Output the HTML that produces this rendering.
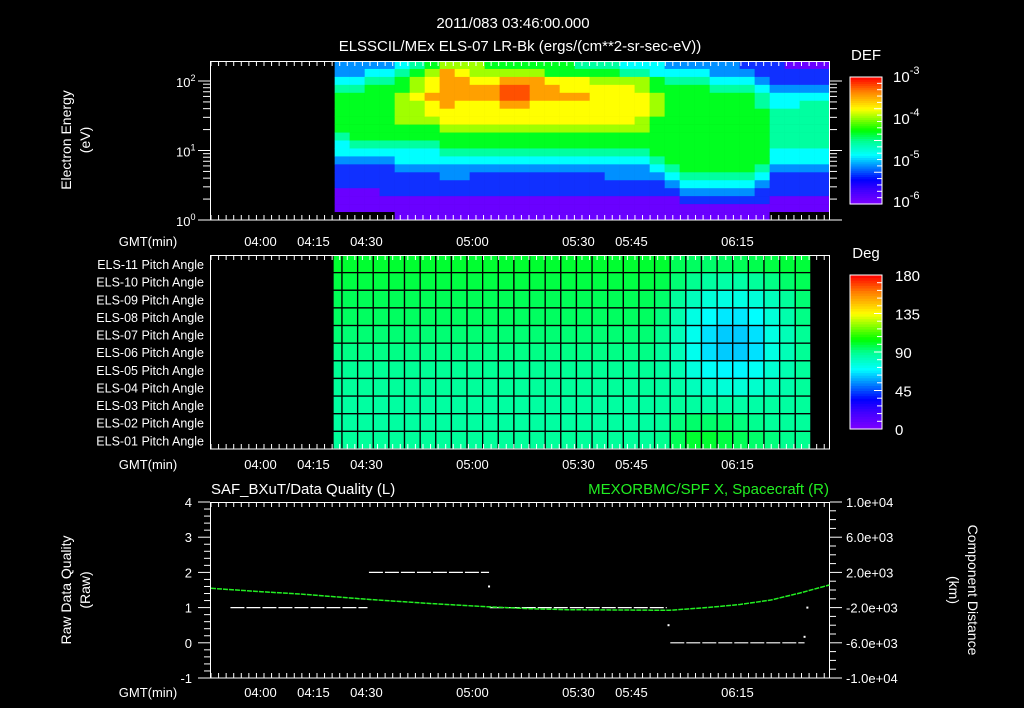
<!DOCTYPE html>
<html><head><meta charset="utf-8"><style>
html,body{margin:0;padding:0;background:#000;}
svg{display:block;font-family:"Liberation Sans",sans-serif;}
</style></head><body>
<svg id="s" width="1024" height="708" viewBox="0 0 1024 708" xmlns="http://www.w3.org/2000/svg">
<rect width="1024" height="708" fill="#000"/>
<text x="513" y="28" fill="#fff" font-size="15" text-anchor="middle">2011/083 03:46:00.000</text>
<text x="520" y="51" fill="#fff" font-size="15" text-anchor="middle">ELSSCIL/MEx ELS-07 LR-Bk  (ergs/(cm**2-sr-sec-eV))</text>
<g id="g1"></g>
<g id="g2"></g>
<g id="g3"></g>
</svg>
<script>
// ---------- shared data ----------
const timeLabels = ["04:00","04:15","04:30","05:00","05:30","05:45","06:15"];
const timeLabelMin = [14,29,44,74,104,119,149]; // minutes since 03:46
// spectrogram: 33 time bins (15 px each from 04:21), 20 energy rows top->bottom; level chars
const specCols = [
"33456666654432221110","33456666665432221110","34566666665432221110","34566666665432222110",
"45667777665443222111","56778777665443222111","67889887665443222111","79999988766543322111",
"78999888766543322111","77899888766543222111","67899888766543222111","679aa988766543222111",
"679aa988766543222111","67999888766543222111","66899888766543222111","66889888766543222111",
"56889888766543222111","56788888766543222111","56788888766543322111","45788888766543322111",
"45778887766543322111","44667776666654322111","34566666666665432111","34566666666666543211",
"34566666666666543211","33456666666666543211","33456666666666543211","23456666666666543211",
"22345566666665432211","22234455555443222110","12234455555443222110","12234555555443222110",
"12234555555443222110"];
const specLevelColors = ["#000000","#6a00ff","#1030ff","#0090ff","#00ffff","#00ffa0","#00ff20","#a0ff00","#ffff00","#ffa000","#ff5000"];
// pitch angles (deg), rows ELS-11 (top) .. ELS-01 (bottom), 31 columns
const pitchRows = [
[100,100,100,100,100,100,100,100,100,100,100,100,100,100,100,100,100,100,100,100,100,100,96,95,94,95,96,97,98,99,99],
[98,98,98,98,98,98,98,98,98,98,98,98,98,98,98,98,98,98,98,98,98,97,93,90,87,86,86,88,91,94,96],
[96,96,96,96,96,96,96,96,96,96,96,96,96,96,96,96,96,96,96,96,96,94,88,82,77,75,75,77,82,88,93],
[95,95,95,95,95,95,95,95,95,95,95,95,95,95,95,95,95,95,95,95,95,92,85,75,70,67,67,70,77,85,91],
[93,93,93,93,93,93,93,93,93,93,93,93,93,93,93,93,93,93,93,93,93,90,83,73,66,63,63,66,75,83,89],
[91,91,91,91,91,91,91,91,91,91,91,91,91,91,91,91,91,91,91,91,91,88,83,73,66,63,63,66,75,83,89],
[89,89,89,89,89,89,89,89,89,89,89,89,89,89,89,89,89,89,89,89,89,87,84,76,71,69,69,72,78,84,88],
[88,88,88,88,88,88,88,88,88,88,88,88,88,88,88,88,88,88,88,88,88,87,86,82,79,77,77,79,82,85,88],
[87,87,87,87,87,87,87,87,87,87,87,87,87,87,87,87,87,87,87,87,87,87,88,87,86,86,86,86,87,87,88],
[87,87,87,87,87,87,87,87,87,87,87,87,87,87,87,87,87,87,87,87,87,88,92,94,94,94,92,90,88,88,88],
[88,88,88,88,88,88,88,88,88,88,88,88,88,88,88,88,88,88,88,88,88,90,96,100,100,98,96,94,92,90,90]];
const pitchLabels = ["ELS-11","ELS-10","ELS-09","ELS-08","ELS-07","ELS-06","ELS-05","ELS-04","ELS-03","ELS-02","ELS-01"];
// data quality segments: [startMin, endMin, value]
const dqSegStart = [5.5,44.7,78.9,130];
const dqSegEnd = [44.3,78.7,129,168];
const dqSegVal = [1,2,1,0];
const dqDotT = [78.7,129.5,168,168.8];
const dqDotV = [1.6,0.5,0.17,1];
// spacecraft X (km)
const scT = [0,14.2,25.2,44.2,62,77.9,90.3,100.8,115.8,129.7,141.3,149.7,158.5,166.7,175];
const scX = [193,-193,-455,-1057,-1534,-1898,-2125,-2239,-2273,-2307,-1966,-1648,-1136,-341,568];
const qTicks = [-1,0,1,2,3,4];
const kmTickLabels = ["-1.0e+04","-6.0e+03","-2.0e+03","2.0e+03","6.0e+03","1.0e+04"];
const kmTicks = [-10000,-6000,-2000,2000,6000,10000];

// ---------- helpers ----------
const NS="http://www.w3.org/2000/svg";
function mk(parent,tag,attrs,txt){const e=document.createElementNS(NS,tag);for(const k in attrs)e.setAttribute(k,attrs[k]);if(txt!==undefined)e.textContent=txt;parent.appendChild(e);return e;}
const X0=211, PXM=3.533;
const tx = t => X0 + t*PXM;
const stops=[[0,[128,0,255]],[20,[64,0,255]],[35,[0,0,255]],[55,[0,144,255]],[70,[0,255,255]],[90,[0,255,144]],[105,[0,255,0]],[135,[255,255,0]],[160,[255,128,0]],[180,[255,0,0]]];
function cmap(v){v=Math.max(0,Math.min(180,v));for(let i=1;i<stops.length;i++){if(v<=stops[i][0]){const a=stops[i-1],b=stops[i],f=(v-a[0])/(b[0]-a[0]);return `rgb(${a[1].map((c,j)=>Math.round(c+(b[1][j]-c)*f)).join(",")})`;}}return "rgb(255,0,0)";}
function timeAxis(g,yTop,yBot,labelY){
  for(let t=0;t<=175;t+=15/7){const x=tx(t);const major=Math.abs(((t-14)/15)-Math.round((t-14)/15))<0.01;const L=major?8:5;
    mk(g,"line",{x1:x,y1:yTop,x2:x,y2:yTop+L,stroke:"#fff","stroke-width":1});
    mk(g,"line",{x1:x,y1:yBot,x2:x,y2:yBot-L,stroke:"#fff","stroke-width":1});}
  const gl=mk(g,"text",{x:148,y:labelY,fill:"#fff","font-size":13,"text-anchor":"middle"},"GMT(min)");
  
  
  timeLabels.forEach((s,i)=>{const e=mk(g,"text",{x:tx(timeLabelMin[i]),y:labelY,fill:"#fff","font-size":13,"text-anchor":"middle"},s);
    
    });
}
function colorbar(g,x,y1,y2,name){
  const n=60,h=(y2-y1)/n;
  for(let i=0;i<n;i++){const r=mk(g,"rect",{x:x,y:y2-(i+1)*h,width:32,height:h+0.6,fill:cmap((i+0.5)/n*180)});}
  const b=mk(g,"rect",{x:x,y:y1,width:32,height:y2-y1,fill:"none",stroke:"#fff","stroke-width":1});
  
  
  for(let i=1;i<20;i++){const yy=y2-(y2-y1)*i/20;mk(g,"line",{x1:x+32,y1:yy,x2:x+(i%5==0?24:27),y2:yy,stroke:"#fff"});}
}

// ---------- panel 1 ----------
(function(){
  const g=document.getElementById("g1");
  const top=61,bot=220,E=v=>220-69.5*Math.log10(v);
  const rowH=(bot-top)/20;
  specCols.forEach((col,c)=>{
    for(let r=0;r<20;r++){const lv=parseInt(col[r],16);
      const e=mk(g,"rect",{x:tx(35)+15*c,y:top+r*rowH,width:15.3,height:rowH+0.3,fill:specLevelColors[lv]});
      
      }
  });
  const fr=mk(g,"rect",{x:210.5,y:61.5,width:619,height:158.5,fill:"none",stroke:"#fff"});
  
  
  timeAxis(g,61,220,246);
  [1,10,100].forEach((v,i)=>{const y=E(v);
    mk(g,"line",{x1:198,y1:y,x2:210,y2:y,stroke:"#fff"});mk(g,"line",{x1:830,y1:y,x2:842,y2:y,stroke:"#fff"});
    const t=mk(g,"text",{x:176,y:y+6,fill:"#fff","font-size":13},"10");mk(t,"tspan",{dy:-6,"font-size":9},String(i));
    
    });
  for(let d=0;d<3;d++)for(let m=2;m<10;m++){const v=m*Math.pow(10,d);if(v>170)break;const y=E(v);
    mk(g,"line",{x1:203,y1:y,x2:210,y2:y,stroke:"#fff"});mk(g,"line",{x1:830,y1:y,x2:837,y2:y,stroke:"#fff"});}
  const yl=mk(g,"text",{transform:"translate(71,140) rotate(-90)",fill:"#fff","font-size":14,"text-anchor":"middle"},"Electron Energy");
  
  
  mk(g,"text",{transform:"translate(90,140) rotate(-90)",fill:"#fff","font-size":14,"text-anchor":"middle"},"(eV)");
  colorbar(g,850,77,204,"def-colorbar");
  mk(g,"text",{x:866,y:60,fill:"#fff","font-size":15,"text-anchor":"middle"},"DEF");
  [-3,-4,-5,-6].forEach((p,i)=>{const y=[82,124,166,207][i];const t=mk(g,"text",{x:893,y:y,fill:"#fff","font-size":15},"10");mk(t,"tspan",{dy:-8,"font-size":11},String(p));
    
    });
})();

// ---------- panel 2 ----------
(function(){
  const g=document.getElementById("g2");
  const top=255,bot=449,rh=(bot-top)/11;
  const colX=[333];for(let k=1;k<=31;k++)colX.push(342+15.63*(k-1));
  pitchRows.forEach((row,r)=>row.forEach((v,c)=>{
    const e=mk(g,"rect",{x:colX[c],y:top+r*rh,width:colX[c+1]-colX[c],height:rh,fill:cmap(v),stroke:"#000","stroke-width":1.3});
    
    }));
  const fr=mk(g,"rect",{x:210.5,y:255.5,width:619,height:193.5,fill:"none",stroke:"#fff"});
  
  
  timeAxis(g,255,449,469);
  pitchLabels.forEach((s,i)=>{const e=mk(g,"text",{x:204,y:top+i*rh+14,fill:"#fff","font-size":12.5,"text-anchor":"end"},s+" Pitch Angle");
    
    });
  colorbar(g,850,275,429,"deg-colorbar");
  mk(g,"text",{x:866,y:258,fill:"#fff","font-size":15,"text-anchor":"middle"},"Deg");
  [180,135,90,45,0].forEach((v,i)=>{const e=mk(g,"text",{x:895,y:429-v/180*154+6,fill:"#fff","font-size":15},String(v));
    
    });
})();

// ---------- panel 3 ----------
(function(){
  const g=document.getElementById("g3");
  const top=502,bot=678;
  const qy=v=>bot-(v+1)/5*(bot-top);
  const ky=v=>bot-(v+10000)/20000*(bot-top);
  const fr=mk(g,"rect",{x:210.5,y:502.5,width:619,height:175.5,fill:"none",stroke:"#fff"});
  
  
  timeAxis(g,502,678,697);
  for(let v=-1;v<=4.001;v+=0.2){const y=qy(v);const maj=Math.abs(v-Math.round(v))<0.01;
    mk(g,"line",{x1:maj?198:204,y1:y,x2:210,y2:y,stroke:"#fff"});}
  qTicks.forEach(v=>{const e=mk(g,"text",{x:192,y:qy(v)+5,fill:"#fff","font-size":13,"text-anchor":"end"},String(v));
    
    });
  for(let v=-10000;v<=10000;v+=1000){const y=ky(v);const maj=kmTicks.includes(v);
    mk(g,"line",{x1:830,y1:y,x2:maj?842:836,y2:y,stroke:"#fff"});}
  kmTicks.forEach((v,i)=>{const e=mk(g,"text",{x:846,y:ky(v)+5,fill:"#fff","font-size":13},kmTickLabels[i]);
    
    });
  dqSegVal.forEach((v,i)=>{const e=mk(g,"line",{x1:tx(dqSegStart[i]),y1:qy(v),x2:tx(dqSegEnd[i]),y2:qy(v),stroke:"#fff","stroke-width":1.2,"stroke-dasharray":"14,2"});
    
    });
  dqDotT.forEach((t,i)=>{const e=mk(g,"rect",{x:tx(t)-1,y:qy(dqDotV[i])-1,width:2,height:2,fill:"#fff"});
    
    });
  const pts=scT.map((t,i)=>tx(t).toFixed(1)+","+ky(scX[i]).toFixed(1)).join(" ");
  const pl=mk(g,"polyline",{points:pts,fill:"none",stroke:"#22ee22","stroke-width":1.5,"stroke-dasharray":"5,1"});
  
  
  const t1=mk(g,"text",{x:211,y:494,fill:"#fff","font-size":15},"SAF_BXuT/Data Quality (L)");
  
  
  const t2=mk(g,"text",{x:829,y:494,fill:"#22ee22","font-size":15,"text-anchor":"end"},"MEXORBMC/SPF X, Spacecraft (R)");
  
  
  const a1=mk(g,"text",{transform:"translate(71,590) rotate(-90)",fill:"#fff","font-size":14,"text-anchor":"middle"},"Raw Data Quality");
  
  
  mk(g,"text",{transform:"translate(90,590) rotate(-90)",fill:"#fff","font-size":14,"text-anchor":"middle"},"(Raw)");
  const a2=mk(g,"text",{transform:"translate(968,590) rotate(90)",fill:"#fff","font-size":14,"text-anchor":"middle"},"Component Distance");
  
  
  mk(g,"text",{transform:"translate(949,590) rotate(90)",fill:"#fff","font-size":14,"text-anchor":"middle"},"(km)");
})();
</script>
</body></html>
